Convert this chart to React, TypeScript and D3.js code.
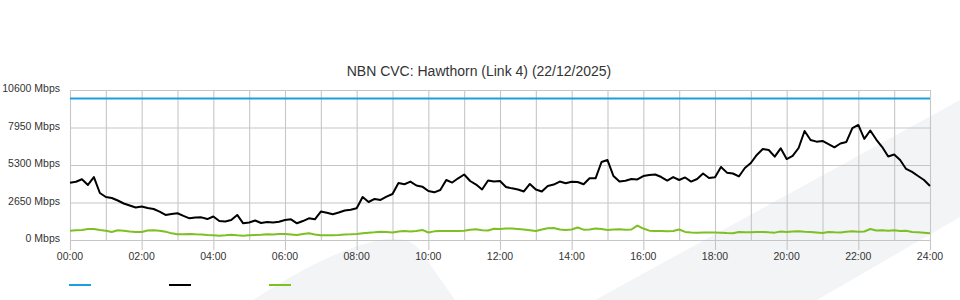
import React from "react";
import * as d3 from "d3";

const TITLE = "NBN CVC: Hawthorn (Link 4) (22/12/2025)";
const yTickValues = [0, 2650, 5300, 7950, 10600];
const yTickLabels = ["0 Mbps", "2650 Mbps", "5300 Mbps", "7950 Mbps", "10600 Mbps"];
const xTickHours = [0, 2, 4, 6, 8, 10, 12, 14, 16, 18, 20, 22, 24];
const xTickLabels = ["00:00", "02:00", "04:00", "06:00", "08:00", "10:00", "12:00", "14:00", "16:00", "18:00", "20:00", "22:00", "24:00"];
const gridHours = [0, 1, 2, 3, 4, 5, 6, 7, 8, 9, 10, 11, 12, 13, 14, 15, 16, 17, 18, 19, 20, 21, 22, 23, 24];
const STEP_MINUTES = 10;

// capacity (blue)
const capacityHours = [0, 24];
const capacityMbps = [10000, 10000];

// traffic (black), one value per 10 minutes
const trafficMbps = [
  4050, 4120, 4290, 3890, 4450, 3320, 3040, 2970, 2790, 2580,
  2440, 2300, 2370, 2260, 2190, 2000, 1770, 1840, 1890, 1700,
  1530, 1590, 1600, 1480, 1660, 1340, 1310, 1410, 1770, 1180,
  1240, 1380, 1200, 1270, 1240, 1290, 1410, 1460, 1180, 1340,
  1530, 1460, 2010, 1930, 1820, 1940, 2085, 2140, 2240, 3040,
  2685, 2900, 2830, 3060, 3250, 4030, 3940, 4130, 3850, 3770,
  3460, 3370, 3530, 4240, 4060, 4360, 4630, 4170, 3920, 3570,
  4200, 4130, 4170, 3750, 3650, 3570, 3430, 3960, 3570, 3430,
  3820, 3920, 4130, 4010, 4120, 4100, 3940, 4360, 4360, 5510,
  5650, 4520, 4130, 4190, 4310, 4280, 4520, 4590, 4630, 4450,
  4200, 4450, 4240, 4420, 4130, 4310, 4700, 4380, 4430, 5160,
  4760, 4700, 4490, 5090, 5440, 6010, 6430, 6360, 5890, 6480,
  5720, 5940, 6500, 7700, 7070, 6950, 7000, 6780, 6550, 6820,
  6930, 7910, 8130, 7150, 7740, 7100, 6570, 5900, 6040, 5650,
  5020, 4810, 4520, 4240, 3820,
];

// green series, one value per 10 minutes
const greenMbps = [
  660, 690, 710, 780, 780, 710, 660, 570, 690, 660,
  600, 570, 570, 670, 690, 660, 590, 470, 400, 400,
  420, 400, 390, 350, 330, 300, 330, 370, 330, 300,
  330, 350, 370, 400, 390, 420, 420, 390, 350, 420,
  470, 390, 330, 330, 330, 350, 390, 400, 420, 470,
  520, 540, 590, 570, 530, 600, 640, 600, 640, 710,
  530, 610, 640, 640, 640, 640, 660, 730, 760, 690,
  670, 800, 780, 810, 810, 780, 740, 690, 640, 740,
  830, 850, 740, 710, 740, 880, 730, 740, 810, 780,
  710, 740, 760, 720, 740, 1020, 810, 660, 640, 640,
  610, 640, 740, 570, 530, 520, 530, 530, 530, 510,
  490, 480, 570, 540, 540, 570, 570, 540, 520, 600,
  570, 600, 610, 580, 570, 530, 490, 570, 540, 530,
  580, 610, 580, 600, 780, 670, 690, 650, 690, 640,
  650, 570, 540, 510, 470,
];

const legendColors = ["#1b9fdf", "#000000", "#7cc023"];

const W = 960;
const H = 300;
const M = { left: 70, right: 930, top: 90, bottom: 240 };
const FONT = "'Liberation Sans', Arial, Helvetica, sans-serif";

export default function App() {
  const x = d3.scaleLinear().domain([0, 24]).range([M.left, M.right]);
  const y = d3.scaleLinear().domain([0, 10600]).range([M.bottom, M.top]);

  const lineGen = d3
    .line<[number, number]>()
    .x((d) => x(d[0]))
    .y((d) => y(d[1]));

  const traffic = trafficMbps.map((v, i) => [(i * STEP_MINUTES) / 60, v] as [number, number]);
  const green = greenMbps.map((v, i) => [(i * STEP_MINUTES) / 60, v] as [number, number]);
  const capacity = capacityMbps.map((v, i) => [capacityHours[i], v] as [number, number]);

  const gridColor = "#c6c6c6";

  return (
    <div style={{ position: "fixed", left: 0, top: 0, width: W, height: H, background: "#fff" }}>
      <svg width={W} height={H} style={{ display: "block" }}>
        <rect x={0} y={0} width={W} height={H} fill="#ffffff" />
        {/* watermark */}
        <path d="M253,300 Q330,250 380,240 Q408,235 420,250 L455,300 Z" fill="#f3f4f6" />
        <path d="M595,300 L960,100 L960,217 L817,300 Z" fill="#f3f4f6" />

        {/* grid */}
        <g stroke={gridColor} strokeWidth={1.1}>
          {gridHours.map((h) => (
            <line key={"v" + h} x1={x(h) + 0.5} x2={x(h) + 0.5} y1={M.top} y2={M.bottom} />
          ))}
          {yTickValues.map((v) => (
            <line key={"h" + v} x1={M.left} x2={M.right + 1} y1={y(v) + 0.5} y2={y(v) + 0.5} />
          ))}
          {xTickHours.map((h) => (
            <line key={"t" + h} x1={x(h) + 0.5} x2={x(h) + 0.5} y1={M.bottom} y2={M.bottom + 10} />
          ))}
        </g>

        {/* series */}
        <path d={lineGen(green) || ""} fill="none" stroke="#7cc023" strokeWidth={2} strokeLinejoin="round" />
        <path d={lineGen(traffic) || ""} fill="none" stroke="#000" strokeWidth={2} strokeLinejoin="round" />
        <path d={lineGen(capacity) || ""} fill="none" stroke="#1b9fdf" strokeWidth={2} />

        {/* title */}
        <text x={479} y={76} textAnchor="middle" fontFamily={FONT} fontSize={14} fill="#333">
          {TITLE}
        </text>

        {/* y labels */}
        {yTickValues.map((v, i) => (
          <text key={"yl" + v} x={60} y={y(v) + 2} textAnchor="end" fontFamily={FONT} fontSize={10.5} fill="#333">
            {yTickLabels[i]}
          </text>
        ))}

        {/* x labels */}
        {xTickHours.map((h, i) => (
          <text key={"xl" + h} x={x(h)} y={260} textAnchor="middle" fontFamily={FONT} fontSize={10.5} fill="#333">
            {xTickLabels[i]}
          </text>
        ))}

        {/* legend */}
        {legendColors.map((c, i) => (
          <line key={"lg" + i} x1={69 + i * 100} x2={91 + i * 100} y1={285} y2={285} stroke={c} strokeWidth={2} />
        ))}
      </svg>
    </div>
  );
}
